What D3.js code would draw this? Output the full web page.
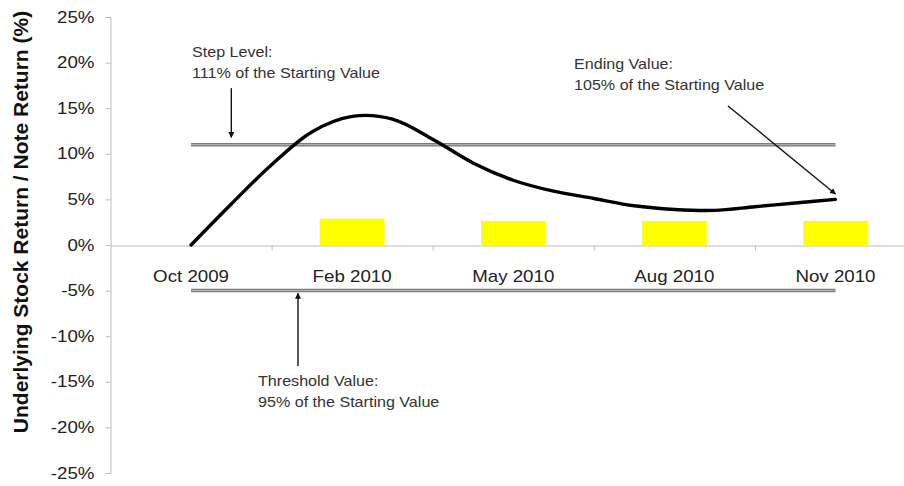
<!DOCTYPE html>
<html>
<head>
<meta charset="utf-8">
<script src="https://cdn.jsdelivr.net/npm/d3@7"></script>
<style>
  body { margin: 0; background: #fff; }
  svg { display: block; font-family: "Liberation Sans", Arial, sans-serif; }
</style>
</head>
<body>
<div class="chart-box"></div>
<script>
// category labels on the x axis
var categories = ["Oct 2009", "Feb 2010", "May 2010", "Aug 2010", "Nov 2010"];
// yellow bars (note return, %)
var noteReturn = [0, 2.9, 2.65, 2.65, 2.65];
// underlying stock path: position in category units, return in %
var stockPos    = [0, 0.25, 0.5, 0.75, 1, 1.25, 1.5, 1.75, 2, 2.25, 2.5, 2.75, 3, 3.25, 3.5, 3.75, 4];
var stockReturn = [0, 4.5, 8.8, 12.4, 14.1, 13.8, 11.6, 9.0, 7.1, 5.9, 5.1, 4.3, 3.9, 3.8, 4.2, 4.6, 5.0];
var yTicks = [-25, -20, -15, -10, -5, 0, 5, 10, 15, 20, 25];
var stepLevel = 11, thresholdLevel = -5;
var stepText = ["Step Level:", "111% of the Starting Value"];
var endText = ["Ending Value:", "105% of the Starting Value"];
var thresholdText = ["Threshold Value:", "95% of the Starting Value"];

var width = 904, height = 486;
var plotLeft = 110.5, plotRight = 916, plotTop = 17, plotBottom = 473;

var svg = d3.select(".chart-box").append("svg")
    .attr("width", width)
    .attr("height", height);

var defs = svg.append("defs");
defs.append("marker")
    .attr("id", "head")
    .attr("viewBox", "0 0 10 10")
    .attr("refX", 9).attr("refY", 5)
    .attr("markerWidth", 6).attr("markerHeight", 6)
    .attr("markerUnits", "userSpaceOnUse")
    .attr("orient", "auto")
  .append("path")
    .attr("d", "M0,0L10,5L0,10z")
    .style("fill", "#111");

var y = d3.scaleLinear().domain([-25, 25]).range([plotBottom, plotTop]);
var x = d3.scaleBand().domain(categories).range([plotLeft, plotRight]);
var xb = d3.scaleLinear().domain([0, categories.length]).range([plotLeft, plotRight]);
var xc = d3.scaleLinear().domain([0, categories.length - 1])
    .range([x(categories[0]) + x.bandwidth() / 2, x(categories[categories.length - 1]) + x.bandwidth() / 2]);

// stretch texts sideways a bit, like the picture
function stretch(sel, sx) {
  sel.each(function() {
    var t = d3.select(this);
    var tx = +t.attr("x") || 0, ty = +t.attr("y") || 0;
    t.attr("transform", "translate(" + tx + "," + ty + ") scale(" + sx + ",1)")
      .attr("x", 0).attr("y", 0);
  });
}

// y axis
var yAxis = svg.append("g")
    .attr("transform", "translate(" + plotLeft + ",0)")
    .call(d3.axisLeft(y).tickValues(yTicks).tickSize(5).tickPadding(11)
      .tickFormat(function(d) { return d + "%"; }));
yAxis.select(".domain").style("stroke", "#bdbdbd");
yAxis.selectAll(".tick line").style("stroke", "#bdbdbd");
yAxis.selectAll(".tick text")
    .style("font-size", "16px").style("fill", "#222");
stretch(yAxis.selectAll(".tick text"), 1.17);

// x axis: ticks between categories
var xTicks = svg.append("g")
    .attr("transform", "translate(0," + (y(0) + 0.5) + ")")
    .call(d3.axisBottom(xb).tickValues([1, 2, 3, 4]).tickSize(5).tickSizeOuter(0).tickFormat(""));
xTicks.select(".domain").style("stroke", "#bdbdbd");
xTicks.selectAll(".tick line").style("stroke", "#bdbdbd");

var xLabels = svg.append("g")
    .attr("transform", "translate(0," + y(0) + ")")
    .call(d3.axisBottom(x).tickSize(0).tickPadding(26));
xLabels.select(".domain").remove();
xLabels.selectAll(".tick text")
    .style("font-size", "16px").style("fill", "#222");
stretch(xLabels.selectAll(".tick text"), 1.17);

// bars
svg.append("g").selectAll("rect")
    .data(noteReturn)
  .enter().append("rect")
    .attr("x", function(d, i) { return x(categories[i]) + x.bandwidth() * 0.3; })
    .attr("width", x.bandwidth() * 0.4)
    .attr("y", function(d) { return y(d); })
    .attr("height", function(d) { return y(0) - y(d); })
    .style("fill", "#ffff00");

// step level and threshold lines
[stepLevel, thresholdLevel].forEach(function(v) {
  var ln = svg.append("g");
  ln.append("line")
      .attr("x1", xc(0)).attr("x2", xc(4))
      .attr("y1", y(v)).attr("y2", y(v))
      .style("stroke", "#7a7a7a").style("stroke-width", 3.5);
  ln.append("line")
      .attr("x1", xc(0)).attr("x2", xc(4))
      .attr("y1", y(v)).attr("y2", y(v))
      .style("stroke", "#b8b8b8").style("stroke-width", 1);
});

// stock path
var line = d3.line()
    .x(function(d, i) { return xc(stockPos[i]); })
    .y(function(d) { return y(d); })
    .curve(d3.curveCatmullRom.alpha(0.5));

svg.append("path")
    .datum(stockReturn)
    .attr("d", line)
    .style("fill", "none")
    .style("stroke", "#000")
    .style("stroke-width", 3.4)
    .style("stroke-linecap", "round");

// annotations
function note(lines, x0, y0) {
  var t = svg.append("g").selectAll("text")
      .data(lines)
    .enter().append("text")
      .attr("x", x0)
      .attr("y", function(d, i) { return y0 + i * 21; })
      .style("font-size", "14px")
      .style("fill", "#333")
      .text(function(d) { return d; });
  stretch(t, 1.15);
}
function arrow(x1, y1, x2, y2) {
  svg.append("line")
      .attr("x1", x1).attr("y1", y1).attr("x2", x2).attr("y2", y2)
      .style("stroke", "#111").style("stroke-width", 1.4)
      .attr("marker-end", "url(#head)");
}

note(stepText, 192, 57);
arrow(xc(0.25), y(17.2), xc(0.25), y(11.8));

note(endText, 574, 69);
arrow(728, 106, xc(4), y(5.6));

note(thresholdText, 258, 386);
arrow(298, 366, 298, y(-5.3));

// y axis title
svg.append("text")
    .attr("transform", "translate(28,222) rotate(-90)")
    .style("text-anchor", "middle")
    .style("font-size", "21px")
    .style("font-weight", "bold")
    .style("fill", "#111")
    .text("Underlying Stock Return / Note Return (%)");
</script>
</body>
</html>
